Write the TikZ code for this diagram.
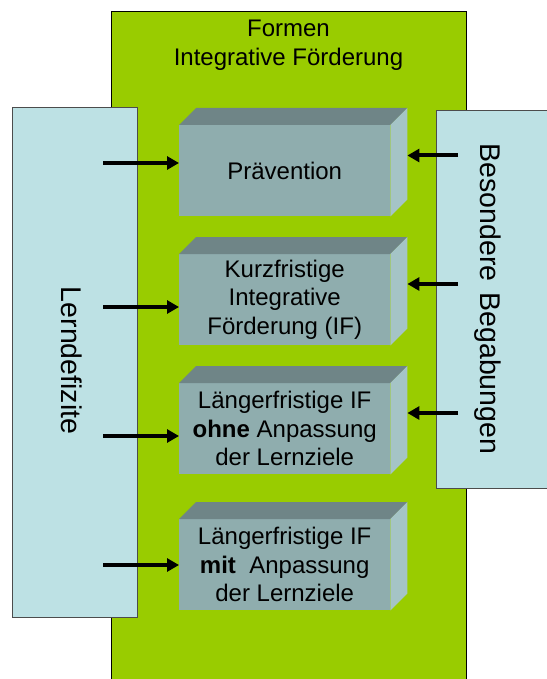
\documentclass[tikz,border=0pt]{standalone}
\usepackage{fontspec}
\setmainfont{Liberation Sans}
\usetikzlibrary{arrows.meta}
\definecolor{grn}{RGB}{153,204,0}
\definecolor{lblue}{RGB}{189,225,228}
\definecolor{bfront}{RGB}{143,173,174}
\definecolor{btop}{RGB}{111,133,135}
\definecolor{bside}{RGB}{165,196,198}
\newcommand{\cuboid}[3]{%
  \node[front] (#1) at (179,#2) {#3};
  \fill[btop] (#1.north west) -- ++(17,-17) -- ([shift={(17,-17)}]#1.north east) -- (#1.north east) -- cycle;
  \fill[bside] (#1.north east) -- ++(17,-17) -- ([shift={(17,-17)}]#1.south east) -- (#1.south east) -- cycle;
  \coordinate (#1back) at ([shift={(17,-17)}]#1.east);
}
\begin{document}
\begin{tikzpicture}[x=1pt,y=-1pt,
  panel/.style={draw=black, line width=0.8pt, fill=grn, inner sep=0pt, anchor=north west},
  sidebox/.style={draw=black!70, line width=0.8pt, fill=lblue, inner sep=0pt, anchor=north west},
  front/.style={fill=bfront, minimum width=211pt, minimum height=91pt, inner sep=0pt,
    anchor=north west, align=center, font=\fontsize{24}{28.5}\selectfont},
  bigtext/.style={rotate=-90, inner sep=0pt, font=\fontsize{28.5}{34}\selectfont},
  link/.style={line width=4pt, -{Triangle[length=12pt,width=13pt]}},
  ]
\useasboundingbox (0,0) rectangle (546,679);
\node[panel, minimum width=355pt, minimum height=670pt] (green) at (111,11) {};
\node[anchor=north, inner sep=0pt, align=center, font=\fontsize{24}{28.5}\selectfont] (title) at (288.5,20) {Formen\\Integrative Förderung};
\node[sidebox, minimum width=125pt, minimum height=510pt] (lbox) at (12,107) {};
\node[sidebox, minimum width=118pt, minimum height=378pt] (rbox) at (436,110) {};
\node[bigtext] (ltext) at (72,360.5) {Lerndefizite};
\node[bigtext] (rtext) at (487.5,299) {Besondere\hspace{3pt} Begabungen};
\cuboid{b1}{125}{Prävention}
\cuboid{b2}{254}{Kurzfristige\\Integrative\\Förderung (IF)}
\cuboid{b3}{383}{Längerfristige IF\\\textbf{ohne} Anpassung\\der Lernziele}
\cuboid{b4}{519}{Längerfristige IF\\\textbf{mit}~ Anpassung\\der Lernziele}
\coordinate (l1) at (103,163);
\coordinate (l2) at (103,307);
\coordinate (l3) at (103,436);
\coordinate (l4) at (103,565);
\coordinate (r1) at (458,155.5);
\coordinate (r2) at (458,284);
\coordinate (r3) at (458,413);
\draw[link] (l1) -- (l1 -| b1.west);
\draw[link] (l2) -- (l2 -| b2.west);
\draw[link] (l3) -- (l3 -| b3.west);
\draw[link] (l4) -- (l4 -| b4.west);
\draw[link] (r1) -- (r1 -| b1back);
\draw[link] (r2) -- (r2 -| b2back);
\draw[link] (r3) -- (r3 -| b3back);
\end{tikzpicture}
\end{document}
